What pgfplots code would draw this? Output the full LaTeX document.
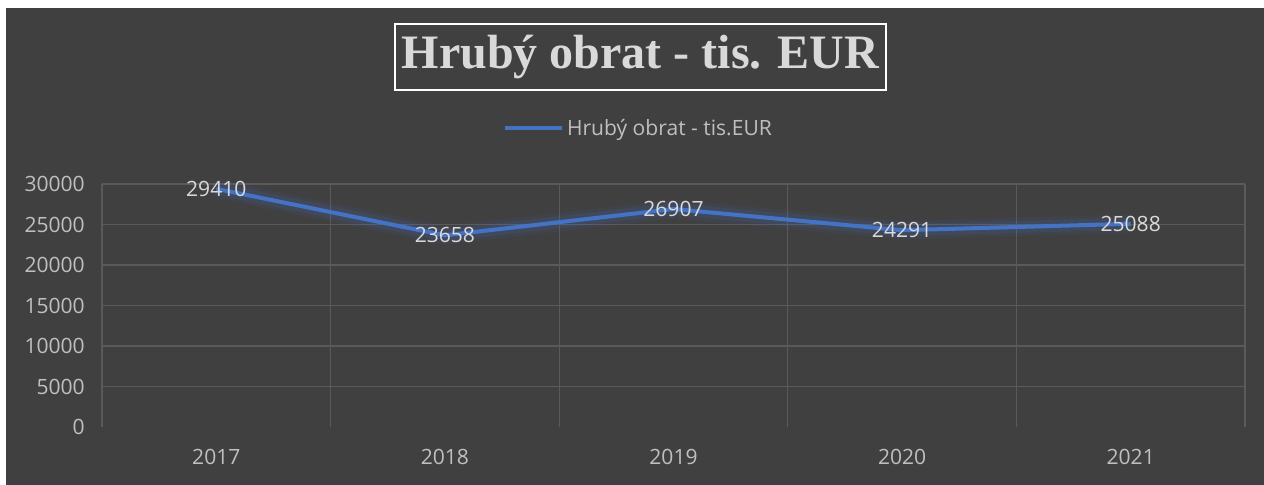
\documentclass[border=0pt]{standalone}
\usepackage{pgfplots}
\pgfplotsset{compat=1.18}
\usepackage{fontspec}
\setmainfont{Open Sans}
\newfontfamily\titlefont{Liberation Serif}
\definecolor{bg}{HTML}{404040}
\definecolor{gridc}{HTML}{5A5A5A}
\definecolor{txt}{HTML}{BFBFBF}
\definecolor{lbl}{HTML}{D9D9D9}
\definecolor{serie}{HTML}{4472C4}
\pgfplotstableread{
x y
0 29410
1 23658
2 26907
3 24291
4 25088
}\datatable
\begin{document}
\begin{tikzpicture}
\begin{scope}[x=0.75pt,y=0.75pt]
\fill[white] (0,0) rectangle (1264,485);
\fill[bg] (6,0) rectangle (1264,477);
\node[draw=white, line width=1.2pt, text=lbl, font=\titlefont\bfseries\fontsize{36}{40}\selectfont, minimum width=368.25pt, minimum height=49.5pt, inner sep=0pt] at (640.5,428) {Hrubý obrat - tis. EUR};
\end{scope}
\begin{axis}[
  at={(76.5pt,43.5pt)}, anchor=south west,
  scale only axis, width=857.25pt, height=182.25pt,
  xmin=-0.5, xmax=4.5, ymin=0, ymax=30000,
  axis line style={draw=none},
  xtick={0,1,2,3,4}, xticklabels={2017,2018,2019,2020,2021},
  minor xtick={-0.5,0.5,1.5,2.5,3.5,4.5},
  xminorgrids=true, xmajorgrids=false,
  ytick={5000,10000,15000,20000,25000,30000},
  extra y ticks={0}, extra y tick style={grid=none},
  ymajorgrids=true,
  grid style={gridc, line width=0.9pt},
  minor grid style={gridc, line width=0.9pt},
  major tick length=0pt, minor tick length=0pt,
  scaled y ticks=false,
  /pgf/number format/.cd, 1000 sep={}, assume math mode=true, /pgfplots/.cd,
  tick label style={text=txt, font=\fontsize{15.8}{18}\selectfont},
  yticklabel style={anchor=east, inner sep=0pt, xshift=-12.75pt},
  xticklabel style={anchor=center, inner sep=0pt, yshift=-22.5pt},
  legend style={draw=none, fill=none, text=txt, font=\fontsize{15.8}{18}\selectfont, at={(0.4698,1.2305)}, anchor=center, inner sep=0pt},
  legend image code/.code={\draw[#1, line width=3pt] (0pt,0pt) -- (42.75pt,0pt);},
  clip=false,
]
\addplot[serie, line width=14pt, opacity=0.08, forget plot] table[x=x,y=y] {\datatable};
\addplot[serie, line width=9pt, opacity=0.14, forget plot] table[x=x,y=y] {\datatable};
\addplot[serie, line width=3pt,
  nodes near coords, point meta=explicit,
  nodes near coords style={anchor=center, text=lbl, font=\fontsize{15.8}{18}\selectfont, /pgf/number format/.cd, fixed, precision=0, 1000 sep={}}]
  table[x=x,y=y,meta=y] {\datatable};
\addlegendentry{Hrubý obrat - tis.EUR}
\end{axis}
\end{tikzpicture}
\end{document}
